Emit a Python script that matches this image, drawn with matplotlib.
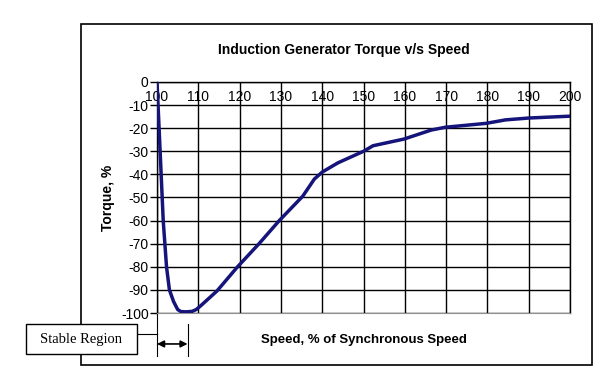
import matplotlib.pyplot as plt
from matplotlib.patches import Rectangle

# torque vs speed
speed = [100, 100.5, 101, 101.5, 101.9, 102.3, 103, 104, 105, 105.8, 107, 108.5,
         109.5, 110.5, 114.5, 119.5, 124.7, 129.6, 135.3, 138.1, 140, 143.8,
         150, 152.3, 159.8, 166.4, 169.8, 179.7, 184.4, 190, 200]
torque = [0, -20, -40, -60, -70, -80, -90, -95, -98.5, -99.4, -99.5, -99.3,
          -98.5, -97, -90.5, -80, -70, -60, -49.4, -42, -39, -35,
          -30, -27.6, -24.7, -20.8, -19.6, -17.9, -16.4, -15.6, -14.8]
x_ticks = list(range(100, 201, 10))
y_ticks = list(range(-100, 1, 10))
stable_start, stable_end = 100, 107.4

plt.rcParams['font.family'] = ['Liberation Sans', 'DejaVu Sans']
plt.rcParams['axes.unicode_minus'] = False

fig = plt.figure(figsize=(6.03, 3.72), dpi=100)
ax = fig.add_axes([0.2604, 0.1586, 0.6849, 0.6210])

ax.plot(speed, torque, color='#14147a', linewidth=2.5, solid_capstyle='round',
        solid_joinstyle='round', zorder=3)

ax.set_xlim(100, 200)
ax.set_ylim(-100, 0)
ax.set_xticks(x_ticks)
ax.set_yticks(y_ticks)
ax.grid(True, color='black', linewidth=1)
ax.xaxis.tick_top()
ax.tick_params(axis='x', length=0, pad=-16, labelsize=10)
ax.tick_params(axis='y', length=5, width=1, labelsize=10, pad=1)
for s in ['left', 'top', 'right']:
    ax.spines[s].set_linewidth(1)
ax.spines['bottom'].set_color('#909090')

ax.set_ylabel('Torque, %', fontsize=10, fontweight='bold', labelpad=4)

fig.text(0.570, 0.866, 'Induction Generator Torque v/s Speed', ha='center', va='center',
         fontsize=10, fontweight='bold')
fig.text(0.603, 0.086, 'Speed, % of Synchronous Speed', ha='center', va='center',
         fontsize=9.5, fontweight='bold')

# outer frame
fig.patches.append(Rectangle((81 / 603, 1 - 365 / 372), 511 / 603, 341 / 372,
                             transform=fig.transFigure, fill=False, edgecolor='black',
                             linewidth=1.2))

# stable region marker
ax.plot([stable_start, stable_start], [-99, -118.5], color='black', lw=0.8, clip_on=False)
ax.plot([stable_end, stable_end], [-104.8, -118.5], color='black', lw=0.8, clip_on=False)
ax.annotate('', xy=(stable_start, -113.4), xytext=(stable_end, -113.4),
            arrowprops=dict(arrowstyle='<|-|>', color='black', lw=1.2,
                            mutation_scale=10, shrinkA=0, shrinkB=0),
            annotation_clip=False)
ax.plot([95.2, stable_start], [-109, -109], color='black', lw=0.8, clip_on=False)
fig.patches.append(Rectangle((26 / 603, 1 - 354 / 372), 111 / 603, 30 / 372,
                             transform=fig.transFigure, facecolor='white',
                             edgecolor='black', linewidth=1))
fig.text(81.5 / 603, 1 - 339 / 372, 'Stable Region', ha='center', va='center',
         fontsize=10.5, family=['Liberation Serif', 'DejaVu Serif'])

fig.savefig('out.png', dpi=100)
